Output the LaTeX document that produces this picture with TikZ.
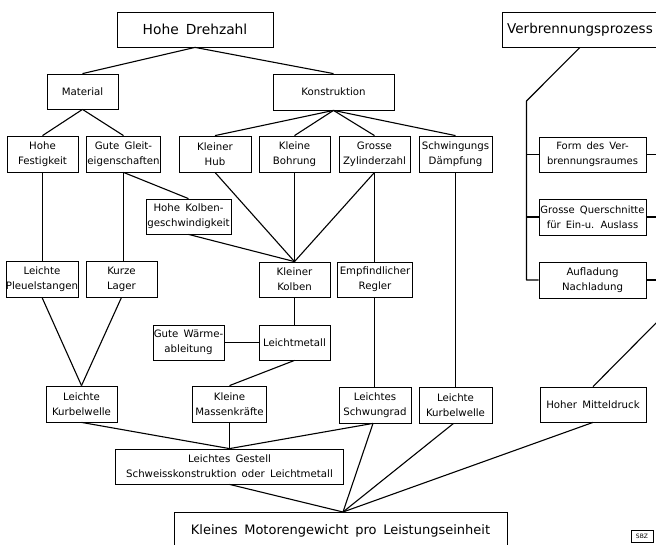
\documentclass[tikz,border=0pt]{standalone}
\usepackage{fontspec}
\setmainfont{DejaVu Sans}[WordSpace=1.6]
\begin{document}
\begin{tikzpicture}[x=1pt,y=-1pt,
  box/.style={draw, line width=0.8pt, inner sep=0pt, align=center,
    font=\fontsize{10.2}{15}\selectfont},
  bigbox/.style={box, font=\fontsize{13.8}{16}\selectfont},
  conn/.style={line width=1.1pt, line join=round}]
\fill[white] (0,0) rectangle (656,545);
\useasboundingbox (0,0) rectangle (656,545);
\clip (0,0) rectangle (656,545);
% top level
\node[bigbox, minimum width=156pt, minimum height=35pt] (hd) at (195,29.5) {Hohe Drehzahl};
\node[bigbox, font=\fontsize{13.5}{16}\selectfont, minimum width=156pt, minimum height=35pt] (vp) at (580,29.5) {Verbrennungsprozess};
\node[box, minimum width=71pt, minimum height=35pt] (mat) at (82.5,91.5) {Material};
\node[box, minimum width=121pt, minimum height=36pt] (kon) at (333.5,92) {Konstruktion};
% row 1
\node[box, minimum width=71pt, minimum height=36pt] (hf) at (42.5,154) {Hohe\\Festigkeit};
\node[box, minimum width=74pt, minimum height=36pt] (gg) at (123.5,154) {Gute Gleit-\\eigenschaften};
\node[box, minimum width=72pt, minimum height=36pt] (kh) at (215,154) {Kleiner\\Hub};
\node[box, minimum width=71pt, minimum height=36pt] (kb) at (294.5,154) {Kleine\\Bohrung};
\node[box, minimum width=71pt, minimum height=36pt] (gz) at (374.5,154) {Grosse\\Zylinderzahl};
\node[box, minimum width=73pt, minimum height=36pt] (sd) at (455.5,154) {Schwingungs\\Dämpfung};
\node[box, font=\fontsize{10}{15}\selectfont, minimum width=107pt, minimum height=35pt] (fv) at (592.5,154.5) {Form des Ver-\\brennungsraumes};
\node[box, font=\fontsize{10}{15}\selectfont, minimum width=107pt, minimum height=36pt] (gq) at (592.5,217) {Grosse Querschnitte\\für Ein-u. Auslass};
\node[box, minimum width=107pt, minimum height=36pt] (an) at (592.5,280) {Aufladung\\Nachladung};
\node[box, minimum width=85pt, minimum height=35pt] (hk) at (188.5,216.5) {Hohe Kolben-\\geschwindigkeit};
% row 2
\node[box, minimum width=72pt, minimum height=36pt] (lp) at (42,279) {Leichte\\Pleuelstangen};
\node[box, minimum width=71pt, minimum height=36pt] (kl) at (121.5,279) {Kurze\\Lager};
\node[box, minimum width=71pt, minimum height=35pt] (kk) at (294.5,279.5) {Kleiner\\Kolben};
\node[box, minimum width=75pt, minimum height=35pt] (er) at (375,279.5) {Empfindlicher\\Regler};
\node[box, minimum width=71pt, minimum height=35pt] (gw) at (188.5,342.5) {Gute Wärme-\\ableitung};
\node[box, minimum width=71pt, minimum height=35pt] (lm) at (294.5,342.5) {Leichtmetall};
% row 3
\node[box, minimum width=71pt, minimum height=36pt] (lk1) at (81.5,404) {Leichte\\Kurbelwelle};
\node[box, minimum width=74pt, minimum height=36pt] (km) at (229.5,404) {Kleine\\Massenkräfte};
\node[box, minimum width=72pt, minimum height=36pt] (ls) at (375,405) {Leichtes\\Schwungrad};
\node[box, minimum width=73pt, minimum height=36pt] (lk2) at (455.5,405) {Leichte\\Kurbelwelle};
\node[box, minimum width=106pt, minimum height=35pt] (hm) at (593,404.5) {Hoher Mitteldruck};
\node[box, minimum width=228pt, minimum height=35pt] (gs) at (229.5,466.5) {Leichtes Gestell\\Schweisskonstruktion oder Leichtmetall};
\node[bigbox, font=\fontsize{13}{16}\selectfont, minimum width=333pt, minimum height=38pt] (kmg) at (340.5,531) {Kleines Motorengewicht pro Leistungseinheit};
\node[draw, line width=0.6pt, inner sep=0pt, minimum width=22pt, minimum height=12pt, font=\fontsize{6}{7}\selectfont] (sbz) at (642,536) {SBZ};
% helper coordinates
\coordinate (ap) at (343,512);
\coordinate (v1) at (526.5,101);
\coordinate (vr) at (662,155);
\coordinate (vb) at (662,317);
% connectors
\draw[conn] (hd.south) -- (mat.north);
\draw[conn] (hd.south) -- (kon.north);
\draw[conn] (mat.south) -- (hf.north);
\draw[conn] (mat.south) -- (gg.north);
\draw[conn] (kon.south) -- (kh.north);
\draw[conn] (kon.south) -- (kb.north);
\draw[conn] (kon.south) -- (gz.north);
\draw[conn] (kon.south) -- (sd.north);
\draw[conn] (hf.south) -- (hf.south |- lp.north);
\draw[conn] (gg.south) -- (gg.south |- kl.north);
\draw[conn] (gg.south) -- (hk.north);
\draw[conn] (kh.south) -- (kk.north);
\draw[conn] (kb.south) -- (kk.north);
\draw[conn] (gz.south) -- (kk.north);
\draw[conn] (hk.south) -- (kk.north);
\draw[conn] (gz.south) -- (gz.south |- er.north);
\draw[conn] (kk.south) -- (lm.north);
\draw[conn] (gw.east) -- (lm.west);
\draw[conn] (lm.south) -- (km.north);
\draw[conn] (lp.south) -- (lk1.north);
\draw[conn] (kl.south) -- (lk1.north);
\draw[conn] (gz.south |- er.south) -- (gz.south |- ls.north);
\draw[conn] (sd.south) -- (sd.south |- lk2.north);
\draw[conn] (lk1.south) -- (gs.north);
\draw[conn] (km.south) -- (gs.north);
\draw[conn] ([xshift=-2pt]ls.south) -- (gs.north);
\draw[conn] (gs.south) -- (ap);
\draw[conn] ([xshift=-2pt]ls.south) -- (ap);
\draw[conn] ([xshift=-2pt]lk2.south) -- (ap);
\draw[conn] (hm.south) -- (ap);
% right group
\draw[conn] (vp.south) -- (v1) -- (v1 |- an.west) -- (an.west);
\draw[conn] (v1 |- fv.west) -- (fv.west);
\draw[conn] (v1 |- gq.west) -- (gq.west);
\draw[conn] (fv.east) -- (fv.east -| vr);
\draw[conn] (gq.east) -- (gq.east -| vr);
\draw[conn] (an.east) -- (an.east -| vr);
\draw[conn] (vr) -- (vb) -- (hm.north);
\end{tikzpicture}
\end{document}
